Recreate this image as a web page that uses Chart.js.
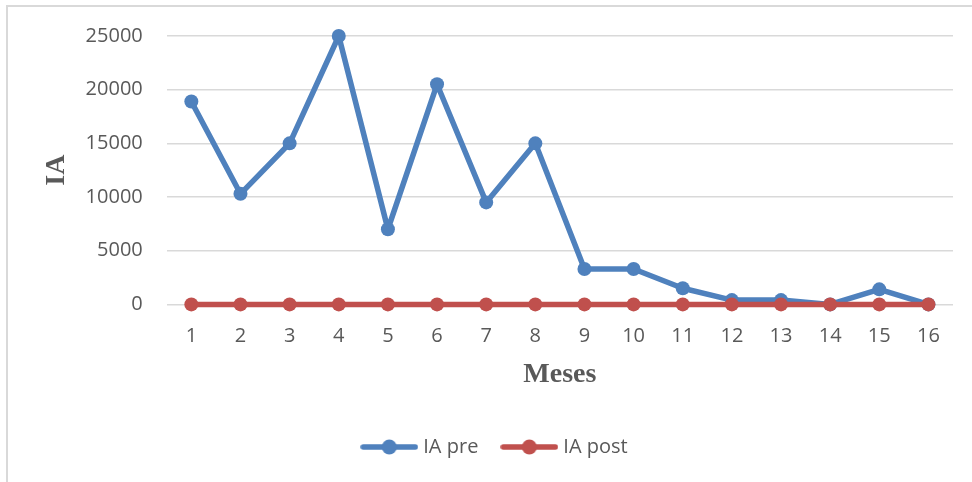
<!DOCTYPE html>
<html>
<head>
<meta charset="utf-8">
<script src="https://cdn.jsdelivr.net/npm/chart.js@4/dist/chart.umd.min.js"></script>
<style>
  html, body { margin: 0; padding: 0; background: #ffffff; }
  #wrap { position: relative; width: 972px; height: 482px; }
</style>
</head>
<body>
<div id="wrap"><canvas id="grafico" width="972" height="482"></canvas></div>
<script>
// Datos por mes
var meses = ['1', '2', '3', '4', '5', '6', '7', '8', '9', '10', '11', '12', '13', '14', '15', '16'];
var iaPre = [18900, 10300, 15000, 25000, 7000, 20500, 9500, 15000, 3300, 3300, 1500, 400, 400, 0, 1400, 0];
var iaPost = [0, 0, 0, 0, 0, 0, 0, 0, 0, 0, 0, 0, 0, 0, 0, 0];
var yTicks = [0, 5000, 10000, 15000, 20000, 25000];

var azul = '#4f81bd';
var rojo = '#c0504d';
var gris = '#595959';

// marcador de leyenda: linea con circulo
function marcador(color) {
	var c = document.createElement('canvas');
	c.width = 58;
	c.height = 18;
	var ctx = c.getContext('2d');
	ctx.strokeStyle = color;
	ctx.lineWidth = 5.5;
	ctx.lineCap = 'round';
	ctx.beginPath();
	ctx.moveTo(3, 9);
	ctx.lineTo(55, 9);
	ctx.stroke();
	ctx.fillStyle = color;
	ctx.beginPath();
	ctx.arc(29, 9, 7.5, 0, Math.PI * 2);
	ctx.fill();
	return c;
}

// marco gris alrededor del grafico
var marco = {
	id: 'marco',
	beforeDraw: function (chart) {
		var ctx = chart.ctx;
		ctx.save();
		ctx.strokeStyle = '#d9d9d9';
		ctx.lineWidth = 2;
		ctx.strokeRect(7, 6, chart.width + 20, chart.height + 20);
		ctx.restore();
	}
};

var serie = function (label, data, color, order) {
	return {
		label: label,
		data: data,
		borderColor: color,
		backgroundColor: color,
		borderWidth: 5.5,
		borderJoinStyle: 'round',
		borderCapStyle: 'round',
		pointStyle: 'circle',
		pointRadius: 7,
		pointHoverRadius: 7,
		pointBorderWidth: 0,
		pointBackgroundColor: color,
		tension: 0,
		clip: false,
		order: order
	};
};

var marcadores = [marcador(azul), marcador(rojo)];

new Chart(document.getElementById('grafico').getContext('2d'), {
	type: 'line',
	data: {
		labels: meses,
		datasets: [
			serie('IA pre', iaPre, azul, 1),
			serie('IA post', iaPost, rojo, 0)
		]
	},
	options: {
		responsive: false,
		animation: false,
		layout: { padding: { left: 40, right: 19, top: 26, bottom: 15 } },
		plugins: {
			tooltip: { enabled: false },
			legend: {
				position: 'bottom',
				labels: {
					usePointStyle: true,
					pointStyleWidth: 48,
					padding: 27,
					color: gris,
					font: { family: 'Open Sans', size: 20 },
					sort: function (a, b) { return a.datasetIndex - b.datasetIndex; },
					generateLabels: function (chart) {
						return chart.data.datasets.map(function (ds, i) {
							return {
								text: ds.label,
								fillStyle: ds.borderColor,
								strokeStyle: ds.borderColor,
								lineWidth: 0,
								pointStyle: marcadores[i],
								fontColor: gris,
								hidden: false,
								datasetIndex: i
							};
						});
					}
				}
			}
		},
		scales: {
			x: {
				offset: true,
				grid: { display: false, drawTicks: false },
				border: { display: false },
				ticks: { color: gris, padding: 20, font: { family: 'Open Sans', size: 20 } },
				title: {
					display: true,
					text: 'Meses',
					color: gris,
					font: { family: 'Liberation Serif', size: 28, weight: 'bold' },
					padding: { top: -10, bottom: 18 }
				}
			},
			y: {
				min: 0,
				max: 25000,
				afterBuildTicks: function (axis) {
					axis.ticks = yTicks.map(function (v) { return { value: v }; });
				},
				grid: { color: '#d9d9d9', lineWidth: 1.5, drawTicks: false },
				border: { display: false },
				ticks: {
					color: gris,
					padding: 24,
					font: { family: 'Open Sans', size: 20 },
					callback: function (v) { return String(v); }
				},
				title: {
					display: true,
					text: 'IA',
					color: gris,
					font: { family: 'Liberation Serif', size: 28, weight: 'bold' },
					padding: { top: 0, bottom: -12 }
				}
			}
		}
	},
	plugins: [marco]
});
</script>
</body>
</html>
